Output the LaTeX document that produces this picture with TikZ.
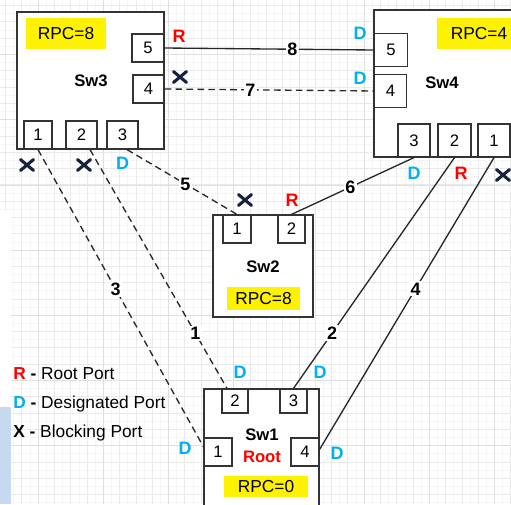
\documentclass[tikz,border=0pt]{standalone}
\usepackage{fontspec}
\setmainfont{Liberation Sans}
\definecolor{rred}{RGB}{255,0,0}
\definecolor{dcyan}{RGB}{0,176,240}
\definecolor{xnavy}{RGB}{22,34,60}
\definecolor{linec}{RGB}{40,40,40}
\definecolor{bluestrip}{RGB}{197,217,241}
\definecolor{gminor}{RGB}{246,246,246}
\definecolor{gmed}{RGB}{234,234,234}
\definecolor{gmajor}{RGB}{224,224,224}
\tikzset{
  sz/.style 2 args={minimum width=#1*0.75pt, minimum height=#2*0.75pt},
  sw/.style={draw=black!80, line width=1pt, fill=white, inner sep=0pt},
  port/.style={draw=black!80, line width=0.9pt, fill=white, inner sep=0pt, font=\fontsize{12.5}{14}\selectfont},
  rpc/.style={fill=yellow, inner sep=0pt, font=\fontsize{13}{15}\selectfont},
  swlbl/.style={inner sep=0pt, font=\fontsize{12.5}{14}\selectfont\bfseries},
  rp/.style={text=rred, inner sep=0pt, font=\fontsize{13.5}{15}\selectfont\bfseries},
  dp/.style={text=dcyan, inner sep=0pt, font=\fontsize{13.5}{15}\selectfont\bfseries},
  blk/.style={minimum width=16pt, minimum height=14pt, inner sep=0pt,
    path picture={\draw[xnavy, line width=2.3pt, line cap=round]
      ([shift={(-4.9pt,-4.1pt)}]path picture bounding box.center) -- ([shift={(4.9pt,4.1pt)}]path picture bounding box.center)
      ([shift={(-4.9pt,4.1pt)}]path picture bounding box.center) -- ([shift={(4.9pt,-4.1pt)}]path picture bounding box.center);}},
  link/.style={draw=linec, line width=1pt},
  dlink/.style={link, dash pattern=on 5pt off 3.2pt},
  num/.style={fill=white, inner sep=1pt, font=\fontsize{13.5}{15}\selectfont\bfseries},
  leg/.style={anchor=base west, inner sep=0pt, font=\fontsize{13}{15}\selectfont}
}
\begin{document}
\begin{tikzpicture}[x=0.75pt,y=-0.75pt]
\useasboundingbox (0,0) rectangle (511,504);
\clip (0,0) rectangle (511,504);
% background grid
\fill[white] (0,0) rectangle (511,504);
\foreach \k in {0,...,62} {
  \pgfmathsetmacro\g{5.5+8.15*\k}
  \draw[gminor, line width=0.5pt] (\g,0) -- (\g,504);
  \draw[gminor, line width=0.5pt] (0,\g) -- (511,\g);
}
\foreach \k in {0,...,31} {
  \pgfmathsetmacro\g{5.5+16.3*\k}
  \draw[gmed, line width=0.5pt] (\g,0) -- (\g,504);
  \draw[gmed, line width=0.5pt] (0,\g) -- (511,\g);
}
\foreach \k in {0,...,7} {
  \pgfmathsetmacro\gx{38.1+65.2*\k}
  \pgfmathsetmacro\gy{54.5+65.2*\k}
  \draw[gmajor, line width=0.6pt] (\gx,0) -- (\gx,504);
  \draw[gmajor, line width=0.6pt] (0,\gy) -- (511,\gy);
}
\fill[white] (0,210) rectangle (11,504);
\fill[bluestrip] (0,407) rectangle (11,504);

% switches
\node[sw, sz={147}{137}] (sw3) at (90.5,80.5) {};
\node[swlbl] (sw3l) at (91,81) {Sw3};
\node[sw, sz={160}{147}] (sw4) at (454,83.5) {};
\node[swlbl] (sw4l) at (442,83) {Sw4};
\node[sw, sz={100}{102}] (sw2) at (263,266) {};
\node[swlbl] (sw2l) at (263,267) {Sw2};
\node[sw, sz={115}{140}] (sw1) at (261.5,459) {};
\node[swlbl] (sw1l) at (262,435) {Sw1};
\node[swlbl, text=rred] (root) at (262,457) {Root};

% RPC labels
\node[rpc, sz={80}{31}] (rpc3) at (66,33.5) {RPC=8};
\node[rpc, sz={84}{31}] (rpc4) at (479,33.5) {RPC=4};
\node[rpc, sz={73}{23}] (rpc2) at (263.5,298.5) {RPC=8};
\node[rpc, sz={84}{21}] (rpc1) at (266,486.5) {RPC=0};

% ports Sw3
\node[port, sz={32}{28}] (s3p5) at (148,48) {5};
\node[port, sz={31}{28}] (s3p4) at (148.5,89) {4};
\node[port, sz={28}{28}] (s3p1) at (38,135) {1};
\node[port, sz={31}{28}] (s3p2) at (81.5,135) {2};
\node[port, sz={31}{28}] (s3p3) at (122.5,135) {3};
% ports Sw4
\node[port, sz={33}{33}] (s4p5) at (391,50) {5};
\node[port, sz={32}{33}] (s4p4) at (390.5,91) {4};
\node[port, sz={32}{33}] (s4p3) at (414,140.5) {3};
\node[port, sz={33}{33}] (s4p2) at (454.5,140.5) {2};
\node[port, sz={32}{33}] (s4p1) at (494,140.5) {1};
% ports Sw2
\node[port, sz={28}{28}] (s2p1) at (237,229) {1};
\node[port, sz={27}{28}] (s2p2) at (291.5,229) {2};
% ports Sw1
\node[port, sz={26}{24}] (s1p2) at (235,401) {2};
\node[port, sz={27}{24}] (s1p3) at (293.5,401) {3};
\node[port, sz={28}{28}] (s1p1) at (218,452) {1};
\node[port, sz={28}{28}] (s1p4) at (305,452) {4};

% links
\draw[link] (s3p5.east) -- node[num, pos=0.61] (l8) {8} (s4p5.west);
\draw[dlink] (s3p4.east) -- node[num, pos=0.41] (l7) {7} (s4p4.west);
\draw[dlink] ([xshift=3.4pt]s3p3.south) -- node[num, pos=0.53] (l5) {5} (s2p1.north);
\draw[link] (s4p3.south) -- node[num, pos=0.52] (l6) {6} (s2p2.north);
\draw[dlink] (s3p1.south) -- node[num, pos=0.47] (l3) {3} (s1p1.160);
\draw[dlink] ([xshift=6.4pt]s3p2.south) -- node[num, pos=0.77] (l1) {1} ([xshift=-6pt]s1p2.north);
\draw[link] (s4p2.south) -- node[num, pos=0.76] (l2) {2} (s1p3.north);
\draw[link] (s4p1.south) -- node[num, pos=0.45] (l4) {4} (s1p4.10);

% port role labels
\node[rp] (r35) at (179,36) {R};
\node[blk] (x34) at (180,77) {};
\node[blk] (x31) at (27,165) {};
\node[blk] (x32) at (84,165) {};
\node[dp] (d33) at (122.5,163) {D};
\node[dp] (d45) at (360,33) {D};
\node[dp] (d44) at (360,78) {D};
\node[dp] (d43) at (414,173) {D};
\node[rp] (r42) at (461,173) {R};
\node[blk] (x41) at (503,175) {};
\node[blk] (x21) at (245,200) {};
\node[rp] (r22) at (292,200) {R};
\node[dp] (d12) at (240,372) {D};
\node[dp] (d13) at (320,372) {D};
\node[dp] (d11) at (185,448) {D};
\node[dp] (d14) at (337,453) {D};

% legend
\node[leg] (legR) at (13,379) {\textbf{\textcolor{rred}{R} -} Root Port};
\node[leg] (legD) at (13,408) {\textbf{\textcolor{dcyan}{D} -} Designated Port};
\node[leg] (legX) at (13,437) {\textbf{X -} Blocking Port};
\end{tikzpicture}
\end{document}
